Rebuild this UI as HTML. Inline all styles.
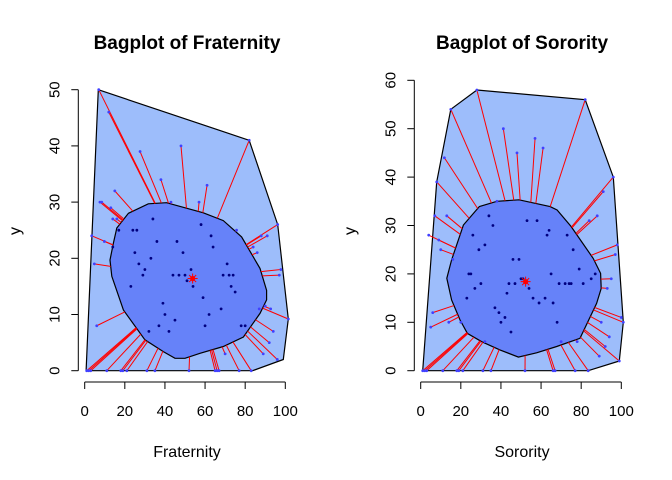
<!DOCTYPE html>
<html><head><meta charset="utf-8"><style>
body{margin:0;background:#fff}
svg{display:block;font-family:"Liberation Sans",sans-serif}
</style></head><body>
<svg id="s" width="672" height="480" viewBox="0 0 672 480">
<text x="187" y="49" text-anchor="middle" font-size="19" font-weight="bold">Bagplot of Fraternity</text>
<text x="522" y="49" text-anchor="middle" font-size="19" font-weight="bold">Bagplot of Sorority</text>
<text x="187" y="457" text-anchor="middle" font-size="16">Fraternity</text>
<text x="522" y="457" text-anchor="middle" font-size="16">Sorority</text>
<text transform="translate(20,231) rotate(-90)" text-anchor="middle" font-size="16">y</text>
<text transform="translate(355,231) rotate(-90)" text-anchor="middle" font-size="16">y</text>
</svg>
<script>
const hullF=[[6.8,50],[82,41],[96.2,26],[101.5,9.2],[99,2],[83.7,0],[0.7,0]];
const bagF=[[21.8,28],[31.7,29.7],[40.8,29.9],[59.1,28.1],[69.1,26.7],[78.2,23.8],[87.4,18.2],[90.7,14.3],[90.7,12.6],[87.4,10.2],[79.1,6.0],[69.1,4.3],[57.5,3.1],[50,2.2],[45,2.2],[39.2,3.4],[30,5.5],[19.3,10.8],[13.5,16.8],[12.6,19.7],[14.3,22.7],[16,25.4]];
const centerF=[53.8,16.4];
const outF=[[7,50],[12,46],[27.6,39],[48,40],[82,41],[38,34],[61,33],[15,32],[7.6,30],[8.5,30],[13,29],[43,30],[57,30],[16,27],[14,27],[3.5,24],[9.8,23],[75.7,25],[88,24],[91,24],[84,22],[86,21],[4.8,19],[97.8,18],[97,17],[6,8],[87,11],[90,11.5],[92.7,11],[94,7],[92,5],[89,3],[70,3],[77,0],[83,0],[65,0],[66,0],[67,0],[52,0],[35,0],[31,0],[21,0],[19,0],[18,0],[11,0],[3,0],[2,0],[1,0],[96,2],[101.5,9.2],[96.2,26]];
const inF=[[34,27],[58,26],[24,25],[26,25],[17,25],[63,24],[36,23],[46,23],[64,22],[25,21],[49,21],[33,20],[27,19],[30,18],[71,19],[29,17],[44,17],[47,17],[50,17],[69,17],[72,17],[74,17],[53,18],[51,16],[54,15],[73,15],[75,14],[23,15],[59,13],[39,12],[68,11],[40,10],[62,10],[45,9],[37,8],[60,8],[78,8],[80,8],[42,7],[32,7],[14,22]];
const hullS=[[1,0],[8,39],[15,54],[28,58],[82,56],[96,40],[101,10],[99,2],[83.5,0]];
const bagS=[[29.2,33.9],[38,35],[49,35.3],[64.5,33.9],[68,33.2],[75,29.8],[86,23.2],[89.7,20.1],[90,17],[87.7,13.9],[79.4,6.7],[67.8,5],[57.8,3.7],[48.7,2.8],[39.5,4.3],[30.4,6],[23.3,7.7],[19.6,10.5],[15.4,14.6],[13,19.1],[15.4,22.9],[21.3,30.1]];
const centerS=[52.3,18.4];
const outS=[[28,58],[15,54],[82,56],[41.2,50],[57,48],[48,45],[61,46],[11.8,44],[8,39],[96,40],[7,32],[13,32],[4,28],[9,27],[10,25],[16,23],[38,35],[91,37],[88,32],[84,31],[98,26],[97,24],[95,19],[93,17],[6,12],[5,9],[14,10],[20,10],[100,11],[101,10],[90,10],[94,7],[92,5],[89,3],[99,2],[70,6],[78,6],[32,6],[83.5,0],[77,0],[66,0],[67,0],[52,0],[35,0],[31,0],[21,0],[18,0],[19,0],[11,0],[1,0],[2,0],[3,0]];
const inS=[[34,32],[53,31],[58,31],[36,30],[64,29],[63,28],[73,28],[26,28],[32,26],[29,25],[76,25],[46,23],[49,23],[79,21],[65,20],[24,20],[25,20],[85,19],[87,20],[30,18],[44,18],[47,18],[69,18],[72,18],[74,18],[75,18],[81,18],[27,17],[54,17],[43,16],[23,15],[56,15],[62,15],[59,14],[66,14],[37,13],[39,12],[42,11],[40,10],[68,10],[45,8],[50,19],[51,19]];
const xTicks=[0,20,40,60,80,100];
const yTicksF=[0,10,20,30,40,50];
const yTicksS=[0,10,20,30,40,50,60];
const NS="http://www.w3.org/2000/svg";
const svg=document.getElementById('s');
function mk(t,a,p){const e=document.createElementNS(NS,t);for(const k in a)e.setAttribute(k,a[k]);(p||svg).appendChild(e);return e;}
function inside(pt,poly){let c=false;for(let i=0,j=poly.length-1;i<poly.length;j=i++){const [xi,yi]=poly[i],[xj,yj]=poly[j];if(((yi>pt[1])!=(yj>pt[1]))&&(pt[0]<(xj-xi)*(pt[1]-yi)/(yj-yi)+xi))c=!c;}return c;}
function hit(c,p,poly){let best=null;const dx=p[0]-c[0],dy=p[1]-c[1];for(let i=0;i<poly.length;i++){const a=poly[i],b=poly[(i+1)%poly.length];const ex=b[0]-a[0],ey=b[1]-a[1];const den=dx*ey-dy*ex;if(Math.abs(den)<1e-9)continue;const t=((a[0]-c[0])*ey-(a[1]-c[1])*ex)/den;const u=((a[0]-c[0])*dy-(a[1]-c[1])*dx)/den;if(t>0&&u>=0&&u<=1&&(best===null||t<best))best=t;}return best===null?c:[c[0]+dx*best,c[1]+dy*best];}
function panel(o){
 const sx=v=>o.x0+v*o.xs, sy=v=>o.y0-v*o.ys;
 const g=mk('g',{});  
 const pts=a=>a.map(p=>sx(p[0]).toFixed(1)+','+sy(p[1]).toFixed(1)).join(' ');
 const h=mk('polygon',{points:pts(o.hull),fill:'#9dbdfb',stroke:'#000','stroke-width':1.2},g);
 
 const b=mk('polygon',{points:pts(o.bag),fill:'#6682f9',stroke:'#000','stroke-width':1.2},g);
 
 o.out.forEach(p=>{if(inside(p,o.bag))return;const q=hit(o.c,p,o.bag);const l=mk('line',{x1:sx(p[0]),y1:sy(p[1]),x2:sx(q[0]),y2:sy(q[1]),stroke:'#ff0000','stroke-width':1},g);
  });
 o.out.forEach(p=>{const d=mk('circle',{cx:sx(p[0]),cy:sy(p[1]),r:1.4,fill:'#4040ff'},g);
  });
 o.inn.forEach(p=>{const d=mk('circle',{cx:sx(p[0]),cy:sy(p[1]),r:1.4,fill:'#000080'},g);
  });
 const cx=sx(o.c[0]),cy=sy(o.c[1]);
 const m=mk('circle',{cx:cx,cy:cy,r:2.6,fill:'#ff0000'},g);
 for(let k=0;k<4;k++){const a=k*Math.PI/4;const l=mk('line',{x1:cx-5*Math.cos(a),y1:cy-5*Math.sin(a),x2:cx+5*Math.cos(a),y2:cy+5*Math.sin(a),stroke:'#ff0000','stroke-width':1},g);}
 const ax=mk('line',{x1:sx(0),y1:382,x2:sx(100),y2:382,stroke:'#000'},g);
 xTicks.forEach(v=>{const t=mk('line',{x1:sx(v),y1:382,x2:sx(v),y2:389,stroke:'#000'},g);
  const tx=mk('text',{x:sx(v),y:416,'text-anchor':'middle','font-size':15},g);tx.textContent=v;});
 const yt=o.yt; const ay=mk('line',{x1:o.ax,y1:sy(0),x2:o.ax,y2:sy(yt[yt.length-1]),stroke:'#000'},g);
 yt.forEach(v=>{const t=mk('line',{x1:o.ax-7,y1:sy(v),x2:o.ax,y2:sy(v),stroke:'#000'},g);
  const tx=mk('text',{transform:`translate(${o.ax-19},${sy(v)}) rotate(-90)`,'text-anchor':'middle','font-size':15},g);tx.textContent=v;});
}
panel({name:'fraternity-panel',x0:84.7,xs:2.006,y0:370.7,ys:5.62,hull:hullF,bag:bagF,c:centerF,out:outF,inn:inF,yt:yTicksF,ax:78.3});
panel({name:'sorority-panel',x0:420.7,xs:2.006,y0:370.7,ys:4.84,hull:hullS,bag:bagS,c:centerS,out:outS,inn:inS,yt:yTicksS,ax:414.3});
</script>
</body></html>
